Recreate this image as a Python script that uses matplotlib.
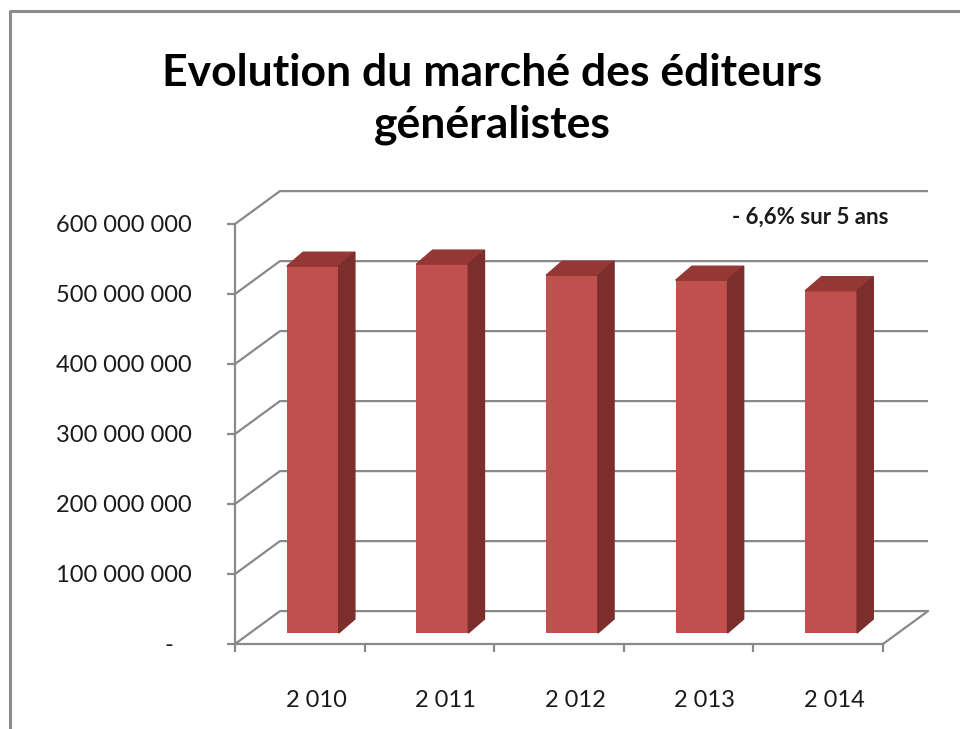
import matplotlib.pyplot as plt
from matplotlib.patches import Polygon
from matplotlib.lines import Line2D

# data (in euros)
years = ["2 010", "2 011", "2 012", "2 013", "2 014"]
values = [524e6, 527e6, 511e6, 504e6, 489e6]
yticks = [0, 100e6, 200e6, 300e6, 400e6, 500e6, 600e6]
ytick_labels = ["-   ", "100 000 000", "200 000 000", "300 000 000",
                "400 000 000", "500 000 000", "600 000 000"]

plt.rcParams['font.family'] = ['Lato', 'DejaVu Sans']

W, H = 960, 729
fig = plt.figure(figsize=(9.6, 7.29), dpi=100)
fig.patch.set_facecolor("white")

# front plane of the 3D box
ax = fig.add_axes([235 / W, (H - 644) / H, 648 / W, 420 / H])
n = len(values)
ax.set_xlim(0, n)
ax.set_ylim(0, 600e6)

grid = "#898989"
# depth of the box (wall) and of the bars, in data units
DX, DY = 0.347, 47e6
BX, BY = 0.10, 15.7e6
BW = 0.40
DDX, DDY = 0.125, 20e6

# back wall + side wall gridlines
for v in yticks:
    ax.plot([0, DX, n + DX], [v, v + DY, v + DY], color=grid, lw=1.6,
            clip_on=False, zorder=1, solid_capstyle="butt")
# floor right edge
ax.plot([n, n + DX], [0, DY], color=grid, lw=1.6, clip_on=False, zorder=1)

front = "#C0504D"
top = "#953735"
side = "#7B2E2C"
xs = [i + 0.5 - BW / 2 + BX for i in range(n)]
ax.bar(xs, values, width=BW, bottom=BY, align="edge", color=front,
       zorder=3, clip_on=False)
for x0, v in zip(xs, values):
    t = v + BY
    ax.add_patch(Polygon([(x0, t), (x0 + BW, t), (x0 + BW + DDX, t + DDY),
                          (x0 + DDX, t + DDY)], closed=True, color=top,
                         zorder=3, clip_on=False))
    ax.add_patch(Polygon([(x0 + BW, BY), (x0 + BW + DDX, BY + DDY),
                          (x0 + BW + DDX, t + DDY), (x0 + BW, t)],
                         closed=True, color=side, zorder=3, clip_on=False))

# axes styling
for s in ["top", "right"]:
    ax.spines[s].set_visible(False)
for s in ["left", "bottom"]:
    ax.spines[s].set_color(grid)
    ax.spines[s].set_linewidth(1.6)
ax.set_facecolor("none")

ax.set_yticks(yticks)
ax.set_yticklabels(ytick_labels)
ax.tick_params(axis="y", length=6, width=1.6, color=grid, pad=25,
               labelsize=17, labelcolor="#1a1a1a")

ax.set_xticks(range(n + 1))
ax.set_xticklabels([])
ax.set_xticks([i + 0.625 for i in range(n)], minor=True)
ax.set_xticklabels(years, minor=True)
ax.tick_params(axis="x", which="major", length=6, width=1.6, color=grid)
ax.tick_params(axis="x", which="minor", length=0, pad=33, labelsize=17,
               labelcolor="#1a1a1a")

ax.text(888 / W, 1 - 217 / H, "- 6,6% sur 5 ans", transform=fig.transFigure,
        ha="right", va="center", fontsize=16, fontweight="bold",
        color="#1a1a1a")

fig.text(492 / W, 1 - 99 / H,
         "Evolution du marché des éditeurs\ngénéralistes",
         ha="center", va="center", fontsize=32, fontweight="bold",
         linespacing=1.32, color="black")

# chart area border
fig.add_artist(Line2D([10 / W, 10 / W, 1], [0, 1 - 11 / H, 1 - 11 / H],
                      transform=fig.transFigure, color="#8c8c8c", lw=2.2))

fig.savefig("out.png", dpi=100)
